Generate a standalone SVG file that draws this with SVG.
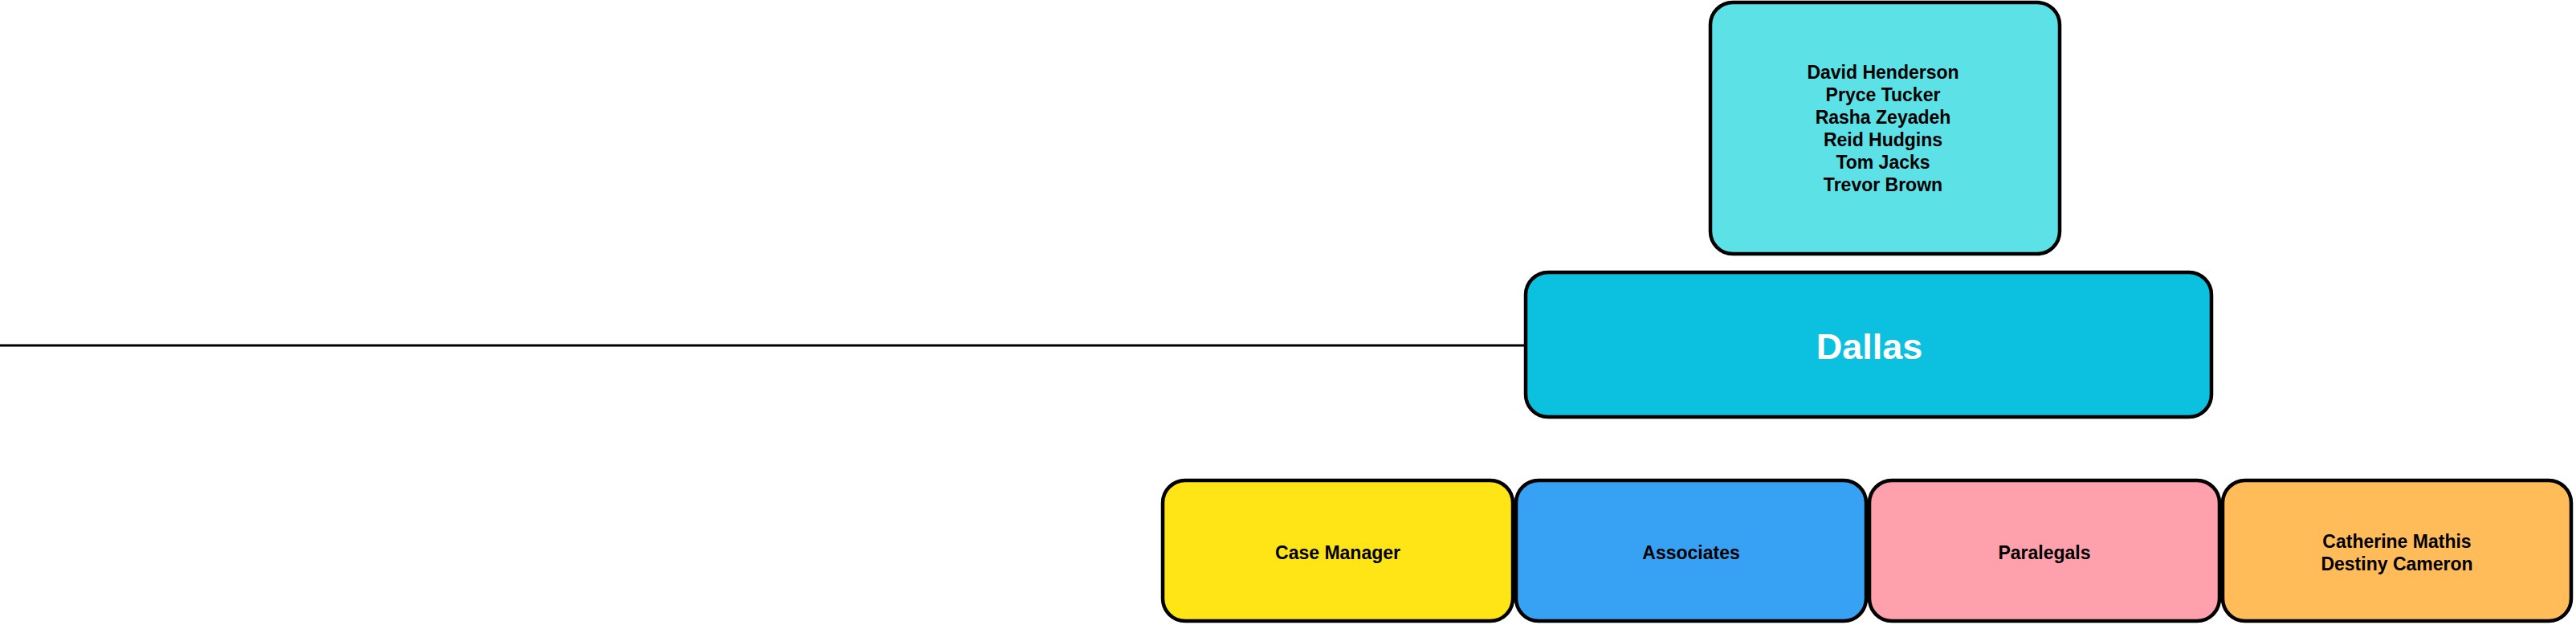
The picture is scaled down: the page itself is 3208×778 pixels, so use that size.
<svg xmlns="http://www.w3.org/2000/svg" width="3208" height="778" viewBox="0 0 3208 778">
<style>
.box{stroke:#000;stroke-width:4.5}
.t{font-family:"Liberation Sans",Arial,sans-serif;font-weight:bold;font-size:23px;fill:#000;text-anchor:middle}
.big{font-family:"Liberation Sans",Arial,sans-serif;font-weight:bold;font-size:45px;fill:#fff;text-anchor:middle}
</style>
<rect width="3208" height="778" fill="#fff"/>
<g id="connectors">
<line x1="0" y1="430" x2="1900" y2="430" stroke="#000" stroke-width="3"/>
</g>
<g id="members">
<rect class="box" x="2130" y="3" width="435" height="313" rx="28" fill="#5ce1e6"/>
<text class="t" x="2345" y="98">David Henderson</text>
<text class="t" x="2345" y="126">Pryce Tucker</text>
<text class="t" x="2345" y="154">Rasha Zeyadeh</text>
<text class="t" x="2345" y="182">Reid Hudgins</text>
<text class="t" x="2345" y="210">Tom Jacks</text>
<text class="t" x="2345" y="238">Trevor Brown</text>
</g>
<g id="dallas">
<rect class="box" x="1900" y="339" width="854" height="180" rx="28" fill="#0cc0df"/>
<text class="big" x="2328" y="447">Dallas</text>
</g>
<g id="case-manager">
<rect class="box" x="1448" y="598" width="436" height="175" rx="28" fill="#ffe515"/>
<text class="t" x="1666" y="696">Case Manager</text>
</g>
<g id="associates">
<rect class="box" x="1888" y="598" width="436" height="175" rx="28" fill="#37a2f4"/>
<text class="t" x="2106" y="696">Associates</text>
</g>
<g id="paralegals">
<rect class="box" x="2328" y="598" width="436" height="175" rx="28" fill="#ffa1ac"/>
<text class="t" x="2546" y="696">Paralegals</text>
</g>
<g id="staff">
<rect class="box" x="2768" y="598" width="434" height="175" rx="28" fill="#ffbc59"/>
<text class="t" x="2985" y="682">Catherine Mathis</text>
<text class="t" x="2985" y="710">Destiny Cameron</text>
</g>
</svg>
